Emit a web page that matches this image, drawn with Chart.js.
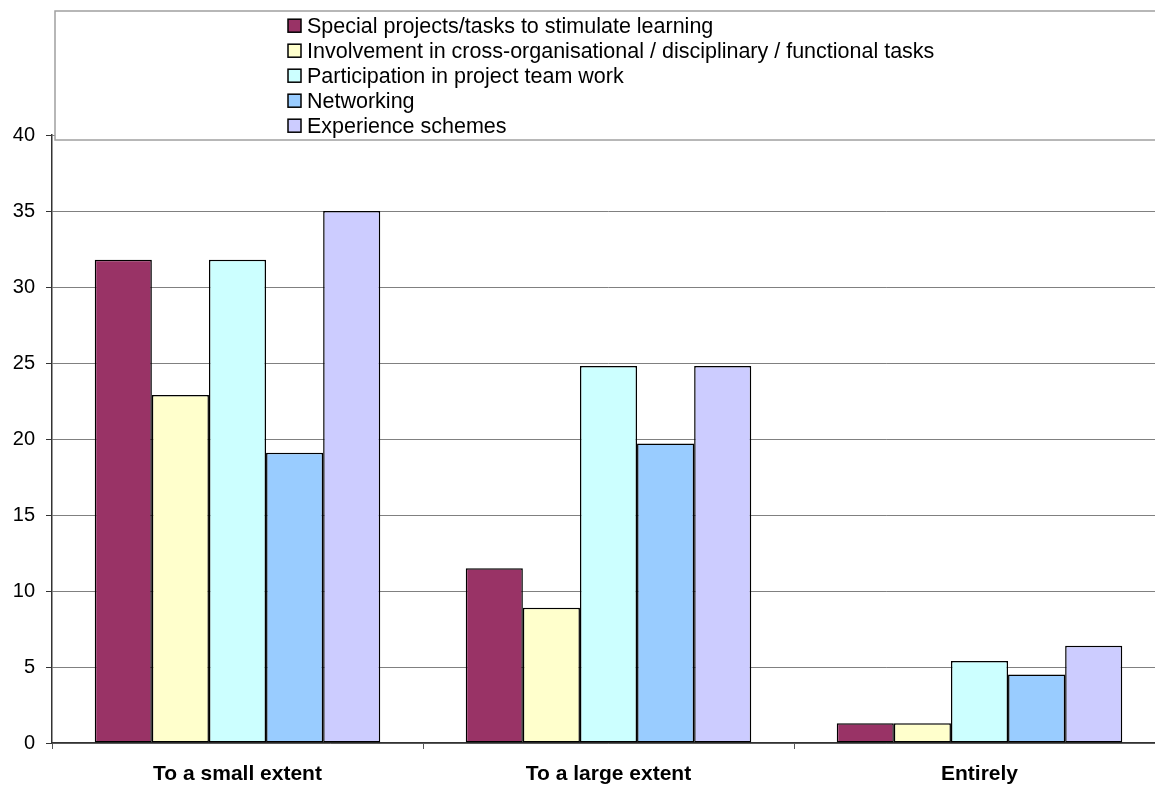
<!DOCTYPE html>
<html>
<head>
<meta charset="utf-8">
<script src="https://cdn.jsdelivr.net/npm/chart.js@4/dist/chart.umd.min.js"></script>
<style>
  html, body { margin: 0; padding: 0; background: #fff; overflow: hidden; }
  #wrap { position: relative; width: 1165px; height: 787px; }
</style>
</head>
<body>
<div id="wrap"><canvas id="chart" width="1165" height="787"></canvas></div>
<script>
// Categories and series
const categories = ['To a small extent', 'To a large extent', 'Entirely'];
const seriesNames = [
  'Special projects/tasks to stimulate learning',
  'Involvement in cross-organisational / disciplinary / functional tasks',
  'Participation in project team work',
  'Networking',
  'Experience schemes'
];
const specialProjects = [31.8, 11.5, 1.3];
const crossFunctional = [22.9, 8.9, 1.3];
const projectTeamWork = [31.8, 24.8, 5.4];
const networking      = [19.1, 19.7, 4.5];
const experience      = [35.0, 24.8, 6.4];
const yTicks = [0, 5, 10, 15, 20, 25, 30, 35, 40];

const seriesColors = ['#993366', '#FFFFCC', '#CCFFFF', '#99CCFF', '#CCCCFF'];
const seriesValues = [specialProjects, crossFunctional, projectTeamWork, networking, experience];

const FONT = '"Liberation Sans", Arial, Helvetica, sans-serif';

// Boxed legend drawn across the top of the plot
const boxedLegend = {
  id: 'boxedLegend',
  afterDraw(chart) {
    const ctx = chart.ctx;
    ctx.save();
    ctx.fillStyle = '#ffffff';
    ctx.fillRect(55, 11, 1200, 129);
    ctx.strokeStyle = '#a0a0a0';
    ctx.lineWidth = 1.5;
    ctx.strokeRect(55, 11, 1200, 129);
    ctx.font = '21.5px ' + FONT;
    ctx.textBaseline = 'middle';
    ctx.textAlign = 'left';
    chart.data.datasets.forEach((ds, i) => {
      const cy = 25.7 + i * 25;
      ctx.fillStyle = ds.backgroundColor;
      ctx.fillRect(288, cy - 6.5, 13, 13);
      ctx.strokeStyle = '#000';
      ctx.lineWidth = 1.5;
      ctx.strokeRect(288, cy - 6.5, 13, 13);
      ctx.fillStyle = '#000';
      ctx.fillText(ds.label, 307, cy + 1);
    });
    ctx.restore();
  }
};

new Chart(document.getElementById('chart'), {
  type: 'bar',
  data: {
    labels: categories,
    datasets: seriesNames.map((name, i) => ({
      label: name,
      data: seriesValues[i],
      backgroundColor: seriesColors[i],
      borderColor: '#000000',
      borderWidth: 1.5,
      borderSkipped: false,
      categoryPercentage: 0.7695,
      barPercentage: 1.0
    }))
  },
  options: {
    responsive: false,
    animation: false,
    devicePixelRatio: 1,
    layout: { padding: { top: 135, left: 0, right: 0, bottom: 0 } },
    plugins: {
      legend: { display: false },
      tooltip: { enabled: false }
    },
    scales: {
      x: {
        afterFit: s => { s.height = 44; },
        grid: {
          offset: true,
          drawOnChartArea: false,
          drawTicks: true,
          tickLength: 6,
          tickColor: '#555555'
        },
        border: { display: true, color: '#333333', width: 1.5 },
        ticks: {
          color: '#000000',
          padding: 13,
          font: { family: FONT, size: 21, weight: 'bold' }
        }
      },
      y: {
        min: 0,
        max: 40,
        afterFit: s => { s.width = 52; },
        afterBuildTicks: s => { s.ticks = yTicks.map(v => ({ value: v })); },
        grid: {
          color: '#808080',
          lineWidth: 1,
          tickLength: 6,
          tickColor: '#333333'
        },
        border: { display: true, color: '#333333', width: 1.5 },
        ticks: {
          color: '#000000',
          padding: 11,
          font: { family: FONT, size: 20 }
        }
      }
    }
  },
  plugins: [boxedLegend]
});
</script>
</body>
</html>
